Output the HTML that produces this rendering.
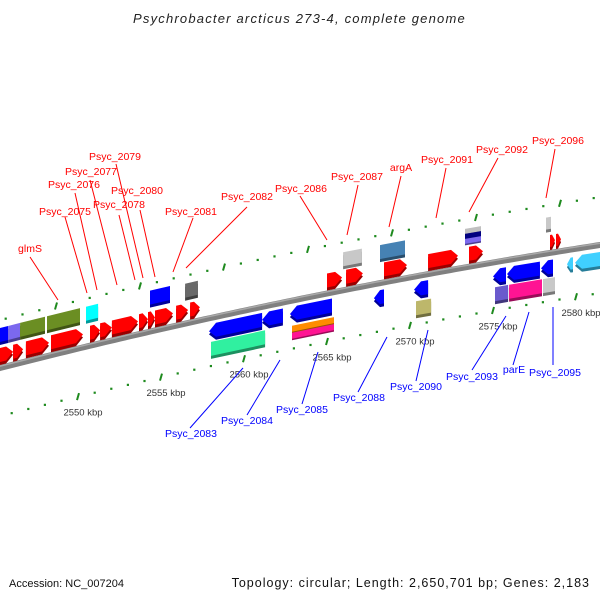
<!DOCTYPE html>
<html><head><meta charset="utf-8"><style>
html,body{margin:0;padding:0;background:#fff;}
svg{display:block;font-family:"Liberation Sans","DejaVu Sans",sans-serif;}
</style></head><body>
<svg id="chart" width="600" height="600" viewBox="0 0 600 600">
<text x="133" y="23" font-size="13" font-style="italic" fill="#222" letter-spacing="1.2">Psychrobacter arcticus 273-4, complete genome</text>
<text x="9" y="587" font-size="11" fill="#111">Accession: NC_007204</text>
<text x="590" y="587" text-anchor="end" font-size="12.5" fill="#111" letter-spacing="1">Topology: circular; Length: 2,650,701 bp; Genes: 2,183</text>
<g id="ticks"></g><g id="bb"></g><g id="genes"></g><g id="labels"></g>
</svg>
<script>
// gene data (kbp)
const geneStart = [2545.51,2546.89,2547.66,2549.16,2551.50,2552.10,2552.81,2554.43,2554.97,2555.39,2556.65,2557.49,2565.69,2566.83,2569.10,2571.74,2574.19,2579.04,2579.40,
 2545.81,2546.59,2547.31,2548.92,2551.26,2555.09,2557.19,2566.65,2568.86,2573.95,2573.95,2573.95,2578.80,
 2558.62,2561.80,2563.47,2568.50,2570.90,2575.63,2576.47,2578.50,2580.06,2580.54,
 2558.74,2563.59,2563.59,2571.02,2575.75,2576.59,2578.62];
const geneEnd = [2546.89,2547.49,2549.04,2551.08,2552.10,2552.81,2554.37,2554.97,2555.39,2556.47,2557.37,2558.08,2566.59,2567.84,2570.48,2573.53,2575.03,2579.34,2579.70,
 2546.59,2547.31,2548.80,2550.90,2551.98,2556.29,2557.96,2567.78,2570.36,2574.91,2574.91,2574.91,2579.10,
 2561.80,2563.05,2565.99,2569.10,2571.74,2576.41,2578.44,2579.22,2580.42,2582.63,
 2561.98,2566.11,2566.11,2571.92,2576.53,2578.56,2579.34];
const geneLane = [-13,-13,-13,-13,-13,-13,-13,-13,-13,-13,-13,-13,-13,-13,-13,-13,-13,-12,-12,
 -33,-33,-33,-33,-33,-34,-33,-31,-31,-36,-31,-26,-30,
 13,13,13,14,13,14,14,14,14,14,
 31,28,35,32,32,32,32];
const geneH = [14,14,14,14,14,14,14,14,14,14,14,14,14,14,14,14,14,12,12,
 14,14,14,14,14,14,14,14,14,5,5,5,12,
 14,14,14,14,14,14,14,14,12,14,
 14,6,6,14,14,14,14];
const geneDir = [1,1,1,1,1,1,1,1,1,1,1,1,1,1,1,1,1,1,1,
 0,0,0,0,0,0,0,0,0,0,0,0,0,
 -1,-1,-1,-1,-1,-1,-1,-1,-1,-1,
 0,0,0,0,0,0,0];
const geneColor = ["#ff0000","#ff0000","#ff0000","#ff0000","#ff0000","#ff0000","#ff0000","#ff0000","#ff0000","#ff0000","#ff0000","#ff0000","#ff0000","#ff0000","#ff0000","#ff0000","#ff0000","#ff0000","#ff0000",
 "#0000ff","#7b68ee","#6b8e23","#6b8e23","#00ffff","#0000ff","#696969","#c8c8c8","#4682b4","#c0c0c0","#000080","#7b68ee","#c8c8c8",
 "#0000ff","#0000ff","#0000ff","#0000ff","#0000ff","#0000ff","#0000ff","#0000ff","#40d0ff","#40d0ff",
 "#30f0a0","#ff8c00","#ff1493","#bdb76b","#6a5acd","#ff1493","#c8c8c8"];
const tickKbp = [2550,2555,2560,2565,2570,2575,2580];
const tickLabels = ["2550 kbp","2555 kbp","2560 kbp","2565 kbp","2570 kbp","2575 kbp","2580 kbp"];
const topLabels = ["glmS","Psyc_2075","Psyc_2076","Psyc_2077","Psyc_2078","Psyc_2079","Psyc_2080","Psyc_2081","Psyc_2082","Psyc_2086","Psyc_2087","argA","Psyc_2091","Psyc_2092","Psyc_2096"];
const topLabelPos = [[30,252,30,257,58,300],[65,215,65,217,87,293],[74,188,75,193,97,290],[91,175,90,180,117,285],[119,208,119,215,135,280],[115,160,116,164,143,278],[137,194,140,210,155,277],[191,215,193,218,173,272],[247,200,247,207,186,268],[301,192,300,196,327,240],[357,180,358,185,347,235],[401,171,401,176,389,227],[447,163,446,168,436,218],[502,153,498,158,469,212],[558,144,555,149,546,198]];
const botLabels = ["Psyc_2083","Psyc_2084","Psyc_2085","Psyc_2088","Psyc_2090","Psyc_2093","parE","Psyc_2095"];
const botLabelPos = [[191,437,190,428,243,368],[247,424,247,415,280,360],[302,413,302,404,318,352],[359,401,358,392,387,337],[416,390,416,381,428,330],[472,380,472,370,506,316],[514,373,513,365,529,312],[555,376,553,365,553,307]];

const NS="http://www.w3.org/2000/svg";
function bb(x){return 368-0.255*x+0.0000833*x*x;}
function gx(k){return 65+16.7*(k-2550);}
function lowX(k){return 78+16.6*(k-2550);}
function upX(k){return 56+16.8*(k-2550);}
function mk(tag,attrs,parent){const e=document.createElementNS(NS,tag);for(const a in attrs)e.setAttribute(a,attrs[a]);parent.appendChild(e);return e;}
function shade(c,f){const n=parseInt(c.slice(1),16);let r=(n>>16)&255,g=(n>>8)&255,b=n&255;return "rgb("+Math.round(r*f)+","+Math.round(g*f)+","+Math.round(b*f)+")";}

// ticks
const tg=document.getElementById('ticks');
for(let k=2544;k<=2583;k++){
  const major=(k%5===0);
  [[lowX(k),48,'lower'],[upX(k),-48,'upper']].forEach(function(p){
    const x=p[0]; if(x<-2||x>602)return;
    const y=bb(x)+p[1];
    let el;
    if(major){el=mk('line',{x1:x-1,y1:y+3.5,x2:x+1,y2:y-3.5,stroke:'#1e8a1e','stroke-width':2},tg);}
    else{el=mk('rect',{x:x-1,y:y-1,width:2.2,height:2.2,fill:'#1e8a1e'},tg);}
    
    
  });
}
tickKbp.forEach(function(k,i){
  const x=lowX(k)+5,y=bb(lowX(k))+48+19;
  const t=mk('text',{x:x,y:y,'text-anchor':'middle','font-size':'9.5',fill:'#333'},tg);
  t.textContent=tickLabels[i];
  
  
});

// backbone
const bg=document.getElementById('bb');
let d="";for(let x=-5;x<=605;x+=5){d+=(x===-5?"M":"L")+x+","+bb(x).toFixed(2);}
const b1=mk('path',{d:d,stroke:'#808080','stroke-width':6,fill:'none'},bg);


let d2="";for(let x=-5;x<=605;x+=5){d2+=(x===-5?"M":"L")+x+","+(bb(x)-1.8).toFixed(2);}
mk('path',{d:d2,stroke:'#a8a8a8','stroke-width':1.5,fill:'none'},bg);

// genes
const gg=document.getElementById('genes');
for(let i=0;i<geneStart.length;i++){
  const x1=gx(geneStart[i]),x2=gx(geneEnd[i]),o=geneLane[i],h=geneH[i],dir=geneDir[i];
  const y1=bb(x1)+o,y2=bb(x2)+o;
  const L=Math.min(7,(x2-x1)*0.6);
  let pts;
  if(dir===1){const xm=x2-L,ym=bb(xm)+o;pts=[[x1,y1-h/2],[xm,ym-h/2],[x2,y2],[xm,ym+h/2],[x1,y1+h/2]];}
  else if(dir===-1){const xm=x1+L,ym=bb(xm)+o;pts=[[x1,y1],[xm,ym-h/2],[x2,y2-h/2],[x2,y2+h/2],[xm,ym+h/2]];}
  else{pts=[[x1,y1-h/2],[x2,y2-h/2],[x2,y2+h/2],[x1,y1+h/2]];}
  const dep=h>6?3:1.5;
  const g=mk('g',{},gg);
  
  
  mk('polygon',{points:pts.map(p=>p[0].toFixed(1)+","+(p[1]+dep).toFixed(1)).join(" "),fill:shade(geneColor[i],0.6)},g);
  mk('polygon',{points:pts.map(p=>p[0].toFixed(1)+","+p[1].toFixed(1)).join(" "),fill:geneColor[i]},g);
}

// labels
const lg=document.getElementById('labels');
topLabels.forEach(function(s,i){
  const p=topLabelPos[i];
  const l=mk('line',{x1:p[2],y1:p[3],x2:p[4],y2:p[5],stroke:'#ff0000','stroke-width':1},lg);
  
  
  const t=mk('text',{x:p[0],y:p[1],'text-anchor':'middle','font-size':'10.5',fill:'#ff0000'},lg);
  t.textContent=s;
  
  
});
botLabels.forEach(function(s,i){
  const p=botLabelPos[i];
  const l=mk('line',{x1:p[2],y1:p[3],x2:p[4],y2:p[5],stroke:'#0000ff','stroke-width':1},lg);
  
  
  const t=mk('text',{x:p[0],y:p[1],'text-anchor':'middle','font-size':'10.5',fill:'#0000ff'},lg);
  t.textContent=s;
  
  
});
</script>
</body></html>
